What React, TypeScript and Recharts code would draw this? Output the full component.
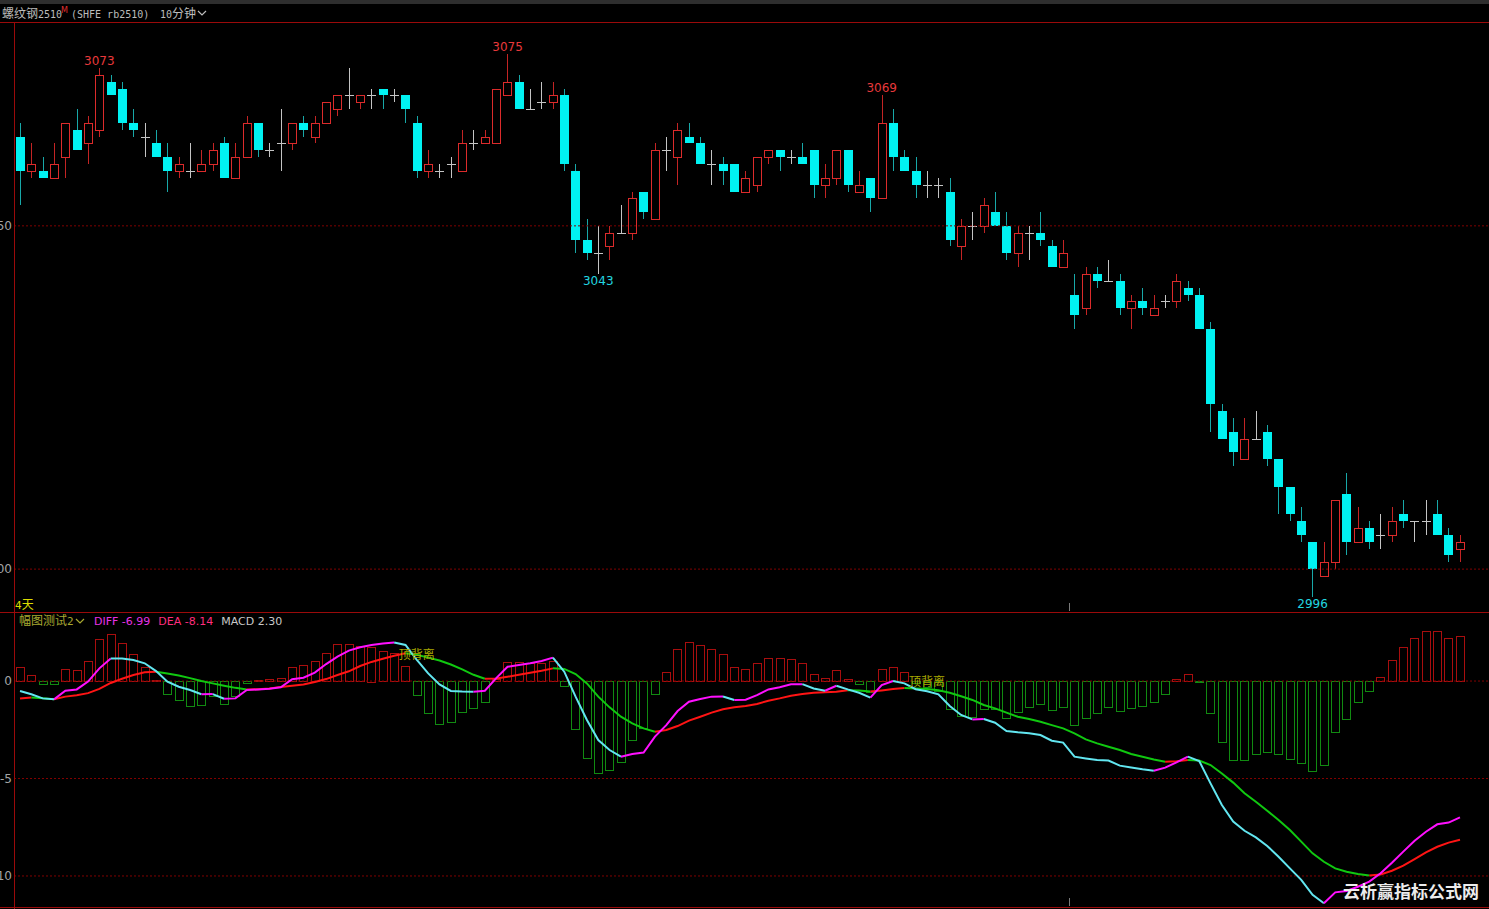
import React from 'react';
import { ComposedChart, Bar, Line, XAxis, YAxis, ReferenceLine, ReferenceDot } from 'recharts';

// ---------- data ----------
const opens = [3063,3058,3058,3057,3060,3064,3062,3064,3071,3070,3065,3063,3062,3060,3058,3058,3058,3059,3062,3057,3060,3065,3061,3062,3062,3065,3063,3065,3067,3069,3068,3069,3070,3069,3069,3065,3058,3058,3059,3058,3062,3062,3062,3069,3071,3067,3068,3068,3069,3058,3048,3046,3047,3049,3049,3055,3051,3061,3060,3063,3062,3059,3059,3059,3055,3056,3060,3061,3060,3060,3061,3056,3057,3061,3055,3057,3054,3065,3060,3058,3056,3056,3055,3047,3050,3050,3052,3050,3046,3049,3049,3047,3044,3040,3038,3043,3042,3042,3038,3039,3037,3039,3039,3041,3040,3035,3023,3020,3016,3019,3020,3016,3012,3007,3004,2999,3001,3011,3004,3006,3005,3005,3008,3007,3007,3008,3005,3003];
const highs = [3065,3062,3060,3062,3065,3067,3066,3073,3072,3071,3067,3065,3064,3062,3060,3062,3061,3062,3063,3062,3066,3065,3062,3067,3065,3066,3066,3068,3069,3073,3069,3070,3070,3070,3069,3066,3061,3059,3060,3064,3064,3064,3070,3075,3072,3070,3071,3071,3070,3059,3051,3050,3050,3053,3055,3055,3062,3063,3065,3065,3063,3061,3060,3059,3058,3060,3061,3061,3061,3062,3061,3059,3061,3061,3058,3057,3069,3067,3061,3060,3058,3057,3057,3051,3052,3054,3055,3052,3050,3050,3052,3048,3048,3043,3044,3044,3045,3043,3040,3041,3040,3040,3043,3042,3041,3036,3024,3022,3022,3023,3021,3016,3012,3009,3004,3004,3010,3014,3009,3007,3008,3009,3010,3007,3010,3010,3006,3005];
const lows = [3053,3057,3057,3057,3057,3061,3059,3063,3069,3064,3063,3060,3060,3055,3057,3057,3058,3058,3057,3057,3060,3060,3060,3058,3061,3063,3062,3065,3066,3067,3067,3067,3067,3068,3065,3057,3057,3057,3057,3058,3061,3062,3062,3069,3067,3067,3067,3067,3058,3046,3045,3043,3045,3049,3048,3051,3051,3058,3056,3062,3059,3056,3056,3055,3055,3055,3059,3058,3059,3059,3054,3054,3056,3055,3055,3052,3054,3058,3058,3054,3054,3054,3047,3045,3048,3049,3050,3045,3044,3045,3047,3044,3044,3035,3037,3041,3042,3037,3035,3037,3037,3038,3038,3039,3035,3020,3019,3015,3016,3019,3015,3008,3007,3004,2996,2999,3000,3002,3004,3003,3003,3004,3006,3004,3005,3005,3001,3001];
const closes = [3058,3059,3057,3059,3065,3061,3065,3072,3069,3065,3064,3063,3060,3058,3059,3058,3059,3061,3057,3060,3065,3061,3061,3062,3065,3064,3065,3068,3069,3069,3069,3069,3069,3069,3067,3058,3059,3058,3059,3062,3062,3063,3070,3071,3067,3067,3068,3069,3059,3048,3046,3046,3049,3049,3054,3052,3061,3061,3064,3062,3059,3059,3058,3055,3057,3060,3061,3060,3060,3059,3056,3057,3061,3056,3056,3054,3065,3060,3058,3056,3056,3056,3048,3050,3050,3053,3050,3046,3049,3049,3048,3044,3046,3037,3043,3042,3042,3038,3039,3038,3038,3039,3042,3040,3035,3024,3019,3017,3019,3019,3016,3012,3008,3005,3000,3001,3010,3004,3006,3004,3005,3007,3007,3007,3007,3005,3002,3004];

const diffVals = [-0.51,-0.68,-0.89,-0.94,-0.50,-0.43,-0.03,0.65,1.16,1.15,1.08,0.91,0.51,-0.03,-0.29,-0.46,-0.68,-0.67,-0.91,-0.89,-0.46,-0.43,-0.39,-0.32,0.09,0.17,0.43,0.87,1.25,1.56,1.73,1.85,1.93,1.98,1.85,1.08,0.39,-0.17,-0.51,-0.54,-0.55,-0.50,0.15,0.73,0.82,0.91,1.03,1.20,0.48,-0.80,-2.00,-3.03,-3.54,-3.88,-3.74,-3.67,-2.85,-2.26,-1.54,-1.06,-0.92,-0.80,-0.79,-0.97,-0.96,-0.72,-0.43,-0.32,-0.17,-0.16,-0.38,-0.50,-0.24,-0.43,-0.60,-0.85,-0.21,0.00,-0.12,-0.42,-0.52,-0.68,-1.28,-1.74,-1.97,-1.95,-2.14,-2.56,-2.63,-2.68,-2.77,-3.06,-3.16,-3.88,-3.97,-4.05,-4.08,-4.34,-4.43,-4.53,-4.60,-4.44,-4.17,-3.88,-4.10,-5.25,-6.36,-7.21,-7.68,-8.02,-8.46,-9.01,-9.61,-10.20,-10.97,-11.40,-10.84,-10.77,-10.55,-10.29,-9.86,-9.32,-8.75,-8.19,-7.73,-7.35,-7.26,-6.99];
const deaVals = [-0.89,-0.84,-0.88,-0.93,-0.80,-0.73,-0.62,-0.40,-0.10,0.12,0.31,0.45,0.48,0.39,0.28,0.15,0.00,-0.12,-0.24,-0.35,-0.43,-0.42,-0.38,-0.30,-0.24,-0.18,-0.05,0.10,0.31,0.50,0.77,0.98,1.14,1.30,1.42,1.35,1.20,1.05,0.85,0.60,0.32,0.12,0.13,0.22,0.32,0.43,0.53,0.65,0.62,0.36,-0.12,-0.80,-1.35,-1.83,-2.17,-2.43,-2.60,-2.51,-2.31,-2.03,-1.83,-1.62,-1.45,-1.35,-1.28,-1.18,-1.01,-0.89,-0.75,-0.67,-0.60,-0.58,-0.55,-0.47,-0.49,-0.54,-0.48,-0.41,-0.36,-0.38,-0.41,-0.47,-0.60,-0.78,-0.97,-1.23,-1.40,-1.62,-1.83,-1.95,-2.09,-2.26,-2.43,-2.68,-2.99,-3.20,-3.37,-3.54,-3.74,-3.88,-4.02,-4.14,-4.12,-4.05,-4.08,-4.31,-4.74,-5.21,-5.76,-6.19,-6.65,-7.13,-7.64,-8.24,-8.84,-9.27,-9.61,-9.78,-9.90,-9.97,-9.92,-9.73,-9.47,-9.13,-8.79,-8.50,-8.29,-8.14];
const macdVals = [0.70,0.29,-0.17,-0.17,0.60,0.55,1.03,2.14,2.39,1.93,1.37,0.73,0.05,-0.68,-0.97,-1.28,-1.23,-0.77,-1.18,-0.77,-0.10,0.05,0.08,0.14,0.70,0.82,1.03,1.45,1.88,1.88,1.81,1.77,1.54,1.45,0.77,-0.74,-1.66,-2.20,-2.10,-1.60,-1.40,-1.09,0.10,0.99,0.96,0.91,0.91,1.03,-0.26,-2.48,-3.97,-4.73,-4.56,-4.17,-3.03,-2.39,-0.68,0.48,1.62,2.02,1.83,1.62,1.37,0.74,0.60,0.91,1.16,1.16,1.11,0.91,0.38,0.17,0.55,0.09,-0.15,-0.55,0.60,0.70,0.48,-0.10,-0.30,-0.50,-1.45,-1.79,-1.86,-1.45,-1.45,-1.88,-1.61,-1.35,-1.20,-1.49,-1.35,-2.27,-1.88,-1.66,-1.35,-1.54,-1.37,-1.26,-1.06,-0.68,0.09,0.34,-0.07,-1.66,-3.11,-4.05,-4.05,-3.74,-3.62,-3.76,-4.02,-4.22,-4.63,-4.32,-2.60,-1.97,-1.06,-0.50,0.19,1.06,1.73,2.22,2.56,2.56,2.22,2.30];

const priceTicks = [3000, 3050];
const macdTicks = [-10, -5, 0];
const peakMarks = [{ idx: 7, value: 3073 }, { idx: 43, value: 3075 }, { idx: 76, value: 3069 }];
const troughMarks = [{ idx: 51, value: 3043 }, { idx: 114, value: 2996 }];
const divergenceMarks = [{ idx: 35, value: 1.33, text: '顶背离' }, { idx: 80, value: -0.05, text: '顶背离' }];
const legendItems = [
  { text: 'DIFF -6.99', color: '#e632e6' },
  { text: 'DEA -8.14', color: '#ff2d7d' },
  { text: 'MACD 2.30', color: '#c8c8c8' },
];

// ---------- styles ----------
const W = 1489;
const H = 909;
const X_DOMAIN: [number, number] = [-0.53, 129.56];
const PRICE_DOMAIN: [number, number] = [2993.9, 3079.4];
const MACD_DOMAIN: [number, number] = [-11.54, 3.49];
const UP = '#dc2b2b';
const UP_WICK = '#c42424';
const DOWN = '#00f2f2';
const DOWN_WICK = '#18a8a8';
const DOJI = '#c4c4c4';
const HIST_UP = '#a80e0e';
const HIST_DN = '#118a11';
const DIFF_UP = '#ff10ff';
const DIFF_DN = '#62e6f0';
const DEA_UP = '#ff1414';
const DEA_DN = '#10c810';
const FRAME = '#9a0a0a';
const GRID = '#800000';
const AXIS_TXT = '#a4a4a4';
const CJK = '"Noto Sans CJK SC", sans-serif';
const MONO = '"DejaVu Sans Mono", monospace';
const SANS = '"DejaVu Sans", sans-serif';

const priceRows = opens.map((o, i) => ({ idx: i, open: o, high: highs[i], low: lows[i], close: closes[i] }));
const macdRows: Record<string, any>[] = macdVals.map((m, i) => ({ idx: i, macd: m }));

type Run = { key: string; color: string };
function buildRuns(rows: Record<string, any>[], vals: number[], prefix: string, colorOf: (i: number) => string): Run[] {
  const runs: Run[] = [];
  let cur: Run | null = null;
  for (let i = 1; i < vals.length; i++) {
    const c = colorOf(i);
    if (!cur || cur.color !== c) {
      cur = { key: `${prefix}${runs.length}`, color: c };
      runs.push(cur);
      rows[i - 1][cur.key] = vals[i - 1];
    }
    rows[i][cur.key] = vals[i];
  }
  return runs;
}
const deaRuns = buildRuns(macdRows, deaVals, 'dea', (i) => (deaVals[i] >= deaVals[i - 1] ? DEA_UP : DEA_DN));
const diffRuns = buildRuns(macdRows, diffVals, 'diff', (i) => (diffVals[i] >= diffVals[i - 1] ? DIFF_UP : DIFF_DN));

const CandleShape = (props: any) => {
  const { x, y, width, height, payload } = props;
  if (x == null || y == null || !payload) return null;
  const top = Math.min(y, y + height);
  const h = Math.abs(height);
  const { open, high, low, close } = payload;
  const span = high - low;
  const k = span > 0 ? h / span : 0;
  const py = (v: number) => top + (high - v) * k;
  const c = Math.round(x + width / 2);
  const yHigh = Math.round(py(high));
  const yLow = Math.round(py(low));
  const yTop = Math.round(py(Math.max(open, close)));
  const yBot = Math.round(py(Math.min(open, close)));
  if (close > open) {
    return (
      <g>
        <line x1={c + 0.5} x2={c + 0.5} y1={yHigh} y2={yTop} stroke={UP_WICK} />
        <line x1={c + 0.5} x2={c + 0.5} y1={yBot} y2={yLow} stroke={UP_WICK} />
        <rect x={c - 3.5} y={yTop + 0.5} width={8} height={Math.max(yBot - yTop, 1)} fill="#000" stroke={UP} />
      </g>
    );
  }
  if (close < open) {
    return (
      <g>
        <line x1={c + 0.5} x2={c + 0.5} y1={yHigh} y2={yLow} stroke={DOWN_WICK} />
        <rect x={c - 4} y={yTop} width={9} height={Math.max(yBot - yTop, 1)} fill={DOWN} />
      </g>
    );
  }
  return (
    <g>
      <line x1={c + 0.5} x2={c + 0.5} y1={yHigh} y2={yLow} stroke={DOJI} />
      <line x1={c - 4} x2={c + 5} y1={yTop + 0.5} y2={yTop + 0.5} stroke={DOJI} />
    </g>
  );
};

const HistShape = (props: any) => {
  const { x, y, width, height, payload } = props;
  if (x == null || y == null || !payload) return null;
  const top = Math.round(Math.min(y, y + height));
  const h = Math.max(Math.round(Math.abs(height)), 1);
  const c = Math.round(x + width / 2);
  const color = payload.macd >= 0 ? HIST_UP : HIST_DN;
  return <rect x={c - 3.5} y={top + 0.5} width={8} height={h} fill="none" stroke={color} />;
};

const Chevron = ({ x, y, color }: { x: number; y: number; color: string }) => (
  <path d={`M${x} ${y} L${x + 4} ${y + 4} L${x + 8} ${y}`} fill="none" stroke={color} strokeWidth={1.2} />
);

export default function App() {
  return (
    <div style={{ position: 'absolute', left: 0, top: 0, width: W, height: H, background: '#000', overflow: 'hidden', fontFamily: SANS }}>
      <style>{'body{margin:0;background:#000;}'}</style>

      {/* price pane */}
      <div style={{ position: 'absolute', left: 0, top: 23, width: W, height: 589 }}>
        <ComposedChart width={W} height={589} data={priceRows} margin={{ top: 1, right: 0, bottom: 1, left: 0 }}>
          <XAxis type="number" dataKey="idx" domain={X_DOMAIN} hide allowDataOverflow />
          <YAxis
            domain={PRICE_DOMAIN}
            allowDataOverflow
            ticks={priceTicks}
            width={14}
            tickSize={0}
            tickMargin={2}
            tickLine={false}
            axisLine={false}
            tick={{ fill: AXIS_TXT, fontSize: 12, fontFamily: SANS }}
          />
          {priceTicks.map((t) => (
            <ReferenceLine key={t} y={t} stroke={GRID} strokeDasharray="2 2" />
          ))}
          <Bar dataKey={(d: any) => [d.low, d.high]} barSize={9} shape={CandleShape} isAnimationActive={false} />
          {peakMarks.map((m) => (
            <ReferenceDot key={`p${m.idx}`} x={m.idx} y={m.value} r={0} fill="none" stroke="none"
              label={{ value: String(m.value), position: 'top', offset: 3, fill: '#e8393b', fontSize: 12, fontFamily: SANS }} />
          ))}
          {troughMarks.map((m) => (
            <ReferenceDot key={`t${m.idx}`} x={m.idx} y={m.value} r={0} fill="none" stroke="none"
              label={{ value: String(m.value), position: 'bottom', offset: 3, fill: '#22d6e0', fontSize: 12, fontFamily: SANS }} />
          ))}
        </ComposedChart>
      </div>

      {/* MACD pane */}
      <div style={{ position: 'absolute', left: 0, top: 612, width: W, height: 297 }}>
        <ComposedChart width={W} height={297} data={macdRows} margin={{ top: 1, right: 0, bottom: 3, left: 0 }}>
          <XAxis type="number" dataKey="idx" domain={X_DOMAIN} hide allowDataOverflow />
          <YAxis
            domain={MACD_DOMAIN}
            allowDataOverflow
            ticks={macdTicks}
            width={14}
            tickSize={0}
            tickMargin={2}
            tickLine={false}
            axisLine={false}
            tick={{ fill: AXIS_TXT, fontSize: 12, fontFamily: SANS }}
          />
          {macdTicks.map((t) => (
            <ReferenceLine key={t} y={t} stroke={GRID} strokeDasharray="2 2" />
          ))}
          <Bar dataKey="macd" barSize={9} shape={HistShape} isAnimationActive={false} />
          {divergenceMarks.map((m) => (
            <ReferenceDot key={`d${m.idx}`} x={m.idx} y={m.value} r={0} fill="none" stroke="none"
              label={{ value: m.text, position: 'center', fill: '#a8a800', fontSize: 12, fontFamily: CJK }} />
          ))}
          {deaRuns.map((r) => (
            <Line key={r.key} dataKey={r.key} stroke={r.color} strokeWidth={2} dot={false} activeDot={false} isAnimationActive={false} type="linear" />
          ))}
          {diffRuns.map((r) => (
            <Line key={r.key} dataKey={r.key} stroke={r.color} strokeWidth={2} dot={false} activeDot={false} isAnimationActive={false} type="linear" />
          ))}
        </ComposedChart>
      </div>

      {/* chrome overlay */}
      <svg width={W} height={H} style={{ position: 'absolute', left: 0, top: 0, pointerEvents: 'none' }}>
        <rect x={0} y={0} width={W} height={4} fill="#2e2e2e" />
        <line x1={0} x2={W} y1={22.5} y2={22.5} stroke={FRAME} />
        <line x1={0} x2={W} y1={612.5} y2={612.5} stroke={FRAME} />
        <line x1={0} x2={W} y1={907.5} y2={907.5} stroke={FRAME} />
        <line x1={14.5} x2={14.5} y1={22} y2={H} stroke={FRAME} />
        <line x1={1069.5} x2={1069.5} y1={603} y2={611} stroke="#7a7a7a" />
        <line x1={1069.5} x2={1069.5} y1={898} y2={906} stroke="#7a7a7a" />

        <text x={2} y={18} fill="#bcbcbc" fontSize={12}>
          <tspan fontFamily={CJK}>螺纹钢</tspan>
          <tspan fontFamily={MONO} fontSize={10}>2510</tspan>
        </text>
        <text x={61} y={13} fill="#e03030" fontSize={8} fontFamily={SANS}>M</text>
        <text x={71} y={18} fill="#bcbcbc" fontSize={10} fontFamily={MONO}>(SHFE rb2510)</text>
        <text x={160} y={18} fill="#bcbcbc" fontSize={12}>
          <tspan fontFamily={MONO} fontSize={10}>10</tspan>
          <tspan fontFamily={CJK}>分钟</tspan>
        </text>
        <Chevron x={198} y={11} color="#bcbcbc" />

        <text x={15} y={609} fill="#dcdc00" fontSize={12}>
          <tspan fontFamily={MONO} fontSize={11}>4</tspan>
          <tspan fontFamily={CJK}>天</tspan>
        </text>

        <text x={19} y={625} fill="#a8a830" fontSize={12}>
          <tspan fontFamily={CJK}>幅图测试</tspan>
          <tspan fontFamily={MONO} fontSize={11}>2</tspan>
        </text>
        <Chevron x={76} y={619} color="#a8a830" />
        <text x={94} y={625} fontSize={11} fontFamily={SANS}>
          {legendItems.map((l, i) => (
            <tspan key={l.text} fill={l.color} dx={i === 0 ? 0 : 8}>{l.text}</tspan>
          ))}
        </text>

        <text x={1343} y={898} fill="#ececec" fontSize={17} fontWeight="bold" fontFamily={CJK}>云析赢指标公式网</text>
      </svg>
    </div>
  );
}
